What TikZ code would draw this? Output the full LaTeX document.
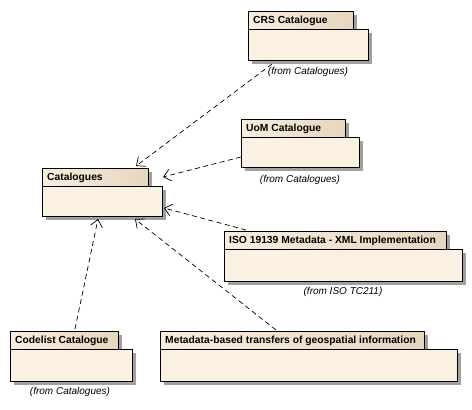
\documentclass[tikz,border=0pt]{standalone}
\usepackage{fontspec}
\setmainfont{Liberation Sans}
\usetikzlibrary{arrows.meta,shadows,calc}
\definecolor{bodyc}{RGB}{251,241,226}
\definecolor{tabl}{RGB}{248,238,222}
\definecolor{tabr}{RGB}{230,214,190}
\definecolor{shad}{RGB}{160,160,160}
\tikzset{
  pkgshadow/.style={drop shadow={shadow xshift=3.5pt,shadow yshift=-3.5pt,fill=shad,opacity=1}},
  pkgtab/.style={draw=black,line width=1pt,left color=tabl,right color=tabr,anchor=north west,
    inner sep=0pt,minimum height=18pt,pkgshadow},
  pkgbody/.style={draw=black,line width=1pt,fill=bodyc,anchor=north west,inner sep=0pt,pkgshadow},
  tabtext/.style={anchor=west,inner sep=0pt,font=\fontsize{10.3}{12}\selectfont\bfseries},
  fromtext/.style={anchor=center,inner sep=0pt,font=\fontsize{10}{12}\selectfont\itshape},
  dep/.style={draw=black,line width=0.7pt,dash pattern=on 5pt off 3.5pt,
    -{Straight Barb[length=7pt,width=12pt,line width=0.7pt]}}
}
\newcommand{\umlpkg}[8]{%
  % #1 name, #2 x, #3 y, #4 tab width, #5 body width, #6 body height, #7 title
  \node[pkgtab,minimum width=#4pt] (#1tab) at (#2,#3) {};
  \node[tabtext] (#1title) at ($(#1tab.west)+(5,0)$) {#7};
  \node[pkgbody,minimum width=#5pt,minimum height=#6pt] (#1) at (#2,#3+18) {};
}
\begin{document}
\begin{tikzpicture}[x=1pt,y=-1pt]
\useasboundingbox[fill=white] (0,0) rectangle (472,410);
\umlpkg{crs}{248}{11}{105}{120}{31}{CRS Catalogue}{}
\umlpkg{uom}{241}{119}{104}{118}{30}{UoM Catalogue}{}
\umlpkg{cat}{42}{168}{106}{120}{30}{Catalogues}{}
\umlpkg{iso}{224}{231}{222}{238}{32}{ISO 19139 Metadata - XML Implementation}{}
\umlpkg{cod}{10}{331}{108}{122}{32}{Codelist Catalogue}{}
\umlpkg{meta}{160}{331}{264}{297}{32}{Metadata-based transfers of geospatial information}{}
\node[fromtext] (crsfrom) at (308,72) {(from Catalogues)};
\node[fromtext] (uomfrom) at (300,180) {(from Catalogues)};
\node[fromtext] (isofrom) at (343,292) {(from ISO TC211)};
\node[fromtext] (codfrom) at (70,392) {(from Catalogues)};
\coordinate (t1) at (136,166);
\coordinate (t2) at (163,177);
\coordinate (t3) at (164,208);
\coordinate (t4) at (135,219);
\coordinate (t5) at (98,219);
\draw[dep] ($(crs.south west)+(24,3)$) -- (t1);
\draw[dep] ($(uom.north west)+(0,20)$) -- (t2);
\draw[dep] ($(isotab.north west)+(22,-1)$) -- (t3);
\draw[dep] ($(metatab.north west)+(116,-1)$) -- (t4);
\draw[dep] ($(codtab.north west)+(65,-2)$) -- (t5);
\end{tikzpicture}
\end{document}
